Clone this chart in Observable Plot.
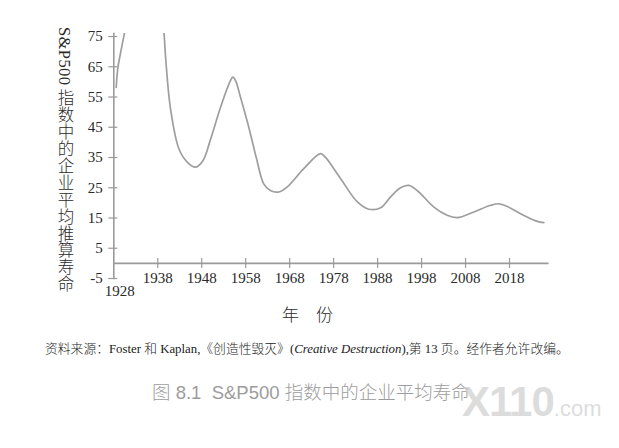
<!DOCTYPE html>
<html>
<head>
<meta charset="utf-8">
<script src="https://cdn.jsdelivr.net/npm/d3@7"></script>
<script src="https://cdn.jsdelivr.net/npm/@observablehq/plot@0.6"></script>
<style>
  html, body { margin: 0; padding: 0; background: #fff; }
  #wrap { position: relative; width: 619px; height: 448px; overflow: hidden; background: #fff; }
  #chart { position: absolute; left: 0; top: 0; }
  .abs { position: absolute; white-space: nowrap; }
  #ytitle { left: 52px; top: 27px; writing-mode: vertical-rl; font-family: "Liberation Serif", "Noto Sans CJK SC", serif; font-size: 16.5px; font-weight: 300; color: #2a2a2a; letter-spacing: 0.4px; }
  #xtitle { left: 282px; top: 301px; font-family: "Noto Sans CJK SC", sans-serif; font-size: 17px; font-weight: 300; color: #2a2a2a; }
  #caption { left: 45px; top: 338px; font-family: "Liberation Serif", "Noto Sans CJK SC", serif; font-size: 12.8px; font-weight: 300; color: #222; }
  #figtitle { left: 152px; top: 378px; font-family: "Liberation Sans", "Noto Sans CJK SC", sans-serif; font-size: 18.5px; font-weight: 300; color: #9c9c9c; }
  #wm { left: 462px; top: 378px; font-family: "Liberation Sans", sans-serif; font-weight: bold; color: rgba(205,205,205,0.7); }
  #wm .big { font-size: 42px; letter-spacing: -1px; }
  #wm .small { font-size: 22px; font-weight: normal; }
</style>
</head>
<body>
<div id="wrap">
  <div id="chart"></div>
  <div id="ytitle" class="abs">S&amp;P500 指数中的企业平均推算寿命</div>
  <div id="xtitle" class="abs">年　份</div>
  <div id="caption" class="abs">资料来源：Foster 和 Kaplan,《创造性毁灭》(<i>Creative Destruction</i>),第 13 页。经作者允许改编。</div>
  <div id="figtitle" class="abs">图 8.1&nbsp; S&amp;P500 指数中的企业平均寿命</div>
  <div id="wm" class="abs"><span class="big">X110</span><span class="small">.com</span></div>
</div>
<script>
// Data
const years = [1928.55, 1928.9, 1929.5, 1930.4, 1931.5, 1935, 1938.7, 1939.4, 1939.8, 1940.9,
  1942.8, 1944.7, 1946.6, 1948.3, 1950.0, 1952.3, 1954.4, 1955.1, 1955.8, 1956.8, 1958.7, 1960.4,
  1962.1, 1963.6, 1965.5, 1967.4, 1971.2, 1975.0, 1976.1, 1979.6, 1983.4, 1986.0, 1988.7, 1990.9,
  1993.2, 1995.1, 1997.0, 2000.8, 2003.8, 2006.1, 2009.9, 2013.7, 2015.6, 2017.5, 2021.2, 2024.3, 2025.8];
const lifespans = [58.2, 64.4, 69.3, 75.9, 83, 95, 85, 76.5, 67.7, 51.1,
  37.9, 33.5, 31.8, 34.0, 41.0, 51.7, 60.0, 61.6, 60.0, 55.0, 45.0, 35.0,
  26.3, 24.1, 23.6, 25.2, 31.3, 36.3, 35.1, 28.0, 20.3, 17.9, 18.4, 21.9,
  25.0, 25.8, 24.1, 18.6, 15.9, 15.1, 17.0, 19.2, 19.7, 18.8, 15.9, 13.9, 13.5];
const xTickLabels = [1928, 1938, 1948, 1958, 1968, 1978, 1988, 1998, 2008, 2018];
const yTickLabels = [-5, 5, 15, 25, 35, 45, 55, 65, 75];

const data = years.map((y, i) => ({year: y, value: lifespans[i]}));

const axisColor = "#9a9a9a";
const textColor = "#2a2a2a";
const serif = "Liberation Serif, Times New Roman, serif";

const chart = Plot.plot({
  width: 619,
  height: 330,
  marginLeft: 113.3,
  marginRight: 70.4,
  marginTop: 33,
  marginBottom: 52,
  style: {background: "transparent", color: textColor, fontFamily: serif, fontSize: "15px"},
  x: {domain: [1928, 2027], axis: null},
  y: {domain: [-5, 76], axis: null},
  marks: [
    Plot.frame({anchor: "left", stroke: axisColor, strokeWidth: 1.6}),
    Plot.axisY({ticks: yTickLabels, tickSize: 9, dx: 4, tickFormat: () => "", label: null, stroke: axisColor, strokeWidth: 1.2}),
    Plot.axisY({ticks: yTickLabels, tickSize: 0, tickPadding: 11, label: null, tickFormat: d => String(d), fontSize: 15, fill: textColor}),
    Plot.ruleY([0], {stroke: axisColor, strokeWidth: 1.6}),
    Plot.axisX({ticks: xTickLabels.slice(1), tickSize: 10, dy: -20, tickFormat: () => "", label: null, stroke: axisColor, strokeWidth: 1.2}),
    Plot.text(xTickLabels.slice(1), {x: d => d, text: d => String(d), frameAnchor: "bottom", dy: 4, fontSize: 15, fill: textColor}),
    Plot.text(xTickLabels.slice(0, 1), {x: d => d, text: d => String(d), frameAnchor: "bottom", dy: 17, dx: 6, fontSize: 15, fill: textColor}),
    Plot.line(data, {x: "year", y: "value", curve: "catmull-rom", stroke: "#9e9e9e", strokeWidth: 1.7, clip: true})
  ]
});
document.getElementById("chart").appendChild(chart);
</script>
</body>
</html>
